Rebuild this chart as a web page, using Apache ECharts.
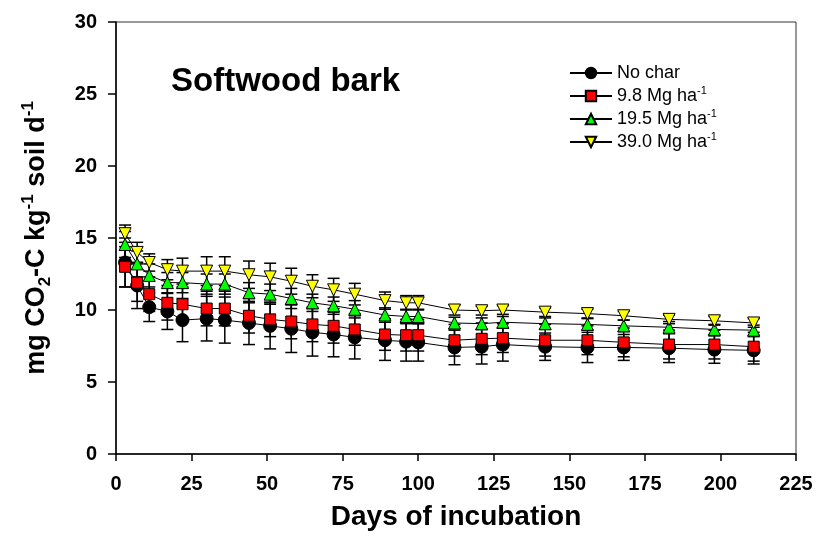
<!DOCTYPE html>
<html>
<head>
<meta charset="utf-8">
<script src="https://cdn.jsdelivr.net/npm/echarts@6/dist/echarts.min.js"></script>
<style>html,body{margin:0;padding:0;background:#fff}#c{width:818px;height:536px}</style>
</head>
<body>
<div id="c"></div>
<script>
var days = [3, 7, 11, 17, 22, 30, 36, 44, 51, 58, 65, 72, 79, 89, 96, 100, 112, 121, 128, 142, 156, 168, 183, 198, 211];
var noChar = [13.3, 11.7, 10.2, 9.9, 9.3, 9.4, 9.3, 9.1, 8.9, 8.7, 8.45, 8.3, 8.1, 7.9, 7.8, 7.75, 7.4, 7.45, 7.6, 7.45, 7.4, 7.4, 7.35, 7.25, 7.2];
var noCharErr = [1.7, 1.6, 1.0, 1.25, 1.5, 1.55, 1.6, 1.5, 1.6, 1.65, 1.65, 1.55, 1.5, 1.4, 1.35, 1.3, 1.2, 1.2, 1.15, 0.95, 1.05, 0.9, 1.0, 0.95, 0.95];
var char98 = [13.0, 11.9, 11.1, 10.5, 10.4, 10.1, 10.1, 9.6, 9.35, 9.2, 9.0, 8.9, 8.65, 8.3, 8.25, 8.25, 7.9, 8.0, 8.05, 7.9, 7.9, 7.75, 7.6, 7.6, 7.45];
var char98Err = [1.4, 1.3, 1.2, 1.2, 1.2, 1.2, 1.2, 1.2, 1.2, 1.2, 1.2, 1.2, 1.1, 1.1, 1.1, 1.1, 1.1, 1.1, 1.0, 1.1, 1.0, 1.0, 1.0, 1.0, 1.0];
var char195 = [14.55, 13.2, 12.4, 11.9, 11.9, 11.8, 11.8, 11.2, 11.1, 10.8, 10.5, 10.3, 10.05, 9.65, 9.55, 9.55, 9.1, 9.05, 9.15, 9.05, 9.0, 8.9, 8.8, 8.65, 8.6];
var char195Err = [0.9, 0.9, 0.8, 0.7, 0.7, 0.7, 0.7, 0.7, 0.7, 0.7, 0.6, 0.6, 0.6, 0.5, 0.5, 0.5, 0.4, 0.4, 0.4, 0.4, 0.4, 0.4, 0.4, 0.35, 0.35];
var char390 = [15.3, 14.0, 13.3, 12.8, 12.7, 12.7, 12.7, 12.45, 12.3, 12.0, 11.65, 11.4, 11.1, 10.65, 10.5, 10.5, 10.0, 9.95, 10.0, 9.85, 9.75, 9.6, 9.35, 9.25, 9.1];
var char390Err = [0.6, 0.7, 0.6, 0.7, 0.9, 1.0, 1.0, 0.95, 0.95, 0.9, 0.8, 0.8, 0.75, 0.6, 0.5, 0.5, 0.35, 0.3, 0.3, 0.3, 0.3, 0.3, 0.3, 0.3, 0.3];
var seriesNames = ['No char', '9.8 Mg ha-1', '19.5 Mg ha-1', '39.0 Mg ha-1'];
var xTicks = [0, 25, 50, 75, 100, 125, 150, 175, 200, 225];
var yTicks = [0, 5, 10, 15, 20, 25, 30];

var chart = echarts.init(document.getElementById('c'));
var FONT = 'Liberation Sans, Arial, sans-serif';

function pairs(vals) { return days.map(function (d, i) { return [d, vals[i]]; }); }
function errData(vals, errs) { return days.map(function (d, i) { return [d, vals[i] - errs[i], vals[i] + errs[i]]; }); }
function errSeries(name, vals, errs, z) {
  return {
    type: 'custom', name: name + ' err', z: z,
    data: errData(vals, errs),
    renderItem: function (params, api) {
      var lo = api.coord([api.value(0), api.value(1)]);
      var hi = api.coord([api.value(0), api.value(2)]);
      var w = 6;
      var st = { stroke: '#000', lineWidth: 1.5 };
      return {
        type: 'group', children: [
          { type: 'line', shape: { x1: lo[0], y1: lo[1], x2: hi[0], y2: hi[1] }, style: st },
          { type: 'line', shape: { x1: lo[0] - w, y1: lo[1], x2: lo[0] + w, y2: lo[1] }, style: st },
          { type: 'line', shape: { x1: hi[0] - w, y1: hi[1], x2: hi[0] + w, y2: hi[1] }, style: st }
        ]
      };
    }
  };
}
function lineSeries(name, vals, symbol, size, color, rot, z) {
  return {
    type: 'line', name: name, data: pairs(vals), z: z,
    symbol: symbol, symbolSize: size, symbolRotate: rot || 0,
    showAllSymbol: true,
    lineStyle: { color: '#000', width: 1 },
    itemStyle: { color: color, borderColor: '#000', borderWidth: 1, opacity: 1 },
    emphasis: { disabled: true },
    animation: false
  };
}

var supRich = {
  sup: { fontSize: 11, fontFamily: FONT, color: '#000', verticalAlign: 'top', lineHeight: 22 },
  n: { fontSize: 18, fontFamily: FONT, color: '#000', lineHeight: 22 }
};

var option = {
  animation: false,
  grid: { left: 116, right: 22, top: 22, bottom: 79, show: true, borderColor: '#333', borderWidth: 1, containLabel: false },
  title: {
    text: 'Softwood bark', left: 166, top: 60,
    textStyle: { fontFamily: FONT, fontSize: 33, fontWeight: 'bold', color: '#000' }
  },
  legend: {
    orient: 'vertical', left: 564, top: 57,
    itemWidth: 42, itemHeight: 13, itemGap: 1,
    data: seriesNames,
    formatter: function (n) {
      var m = n.match(/^(.*)-1$/);
      if (m) return '{n|' + m[1] + '}{sup|-1}';
      return '{n|' + n + '}';
    },
    textStyle: { fontFamily: FONT, fontSize: 18, color: '#000', rich: supRich, lineHeight: 22 }
  },
  xAxis: {
    type: 'value', min: 0, max: 225, interval: 25,
    name: 'Days of incubation', nameLocation: 'middle', nameGap: 49,
    nameTextStyle: { fontFamily: FONT, fontSize: 28, fontWeight: 'bold', color: '#000' },
    axisLine: { show: true, lineStyle: { color: '#000', width: 1.5 } },
    axisTick: { show: true, inside: false, length: 7, lineStyle: { color: '#000', width: 1.5 } },
    axisLabel: { fontFamily: FONT, fontSize: 20, fontWeight: 'bold', color: '#000', margin: 20,
      formatter: function (v) { return xTicks.indexOf(v) >= 0 ? String(v) : ''; } },
    splitLine: { show: false }
  },
  yAxis: {
    type: 'value', min: 0, max: 30, interval: 5,
    name: 'mg CO{sub|2}-C kg{sup|-1} soil d{sup|-1}', nameLocation: 'middle', nameGap: 62, nameRotate: 90,
    nameTextStyle: { fontFamily: FONT, fontSize: 27, fontWeight: 'bold', color: '#000', lineHeight: 34,
      rich: {
        sub: { fontFamily: FONT, fontSize: 17, fontWeight: 'bold', color: '#000', verticalAlign: 'bottom', lineHeight: 34 },
        sup: { fontFamily: FONT, fontSize: 17, fontWeight: 'bold', color: '#000', verticalAlign: 'top', lineHeight: 34 }
      } },
    axisLine: { show: true, lineStyle: { color: '#000', width: 1.5 } },
    axisTick: { show: true, inside: false, length: 8, lineStyle: { color: '#000', width: 1.5 } },
    axisLabel: { fontFamily: FONT, fontSize: 20, fontWeight: 'bold', color: '#000', margin: 19,
      formatter: function (v) { return yTicks.indexOf(v) >= 0 ? String(v) : ''; } },
    splitLine: { show: false }
  },
  series: [
    errSeries(seriesNames[0], noChar, noCharErr, 1),
    errSeries(seriesNames[1], char98, char98Err, 1),
    errSeries(seriesNames[2], char195, char195Err, 1),
    errSeries(seriesNames[3], char390, char390Err, 1),
    lineSeries(seriesNames[0], noChar, 'circle', 13, '#000000', 0, 3),
    lineSeries(seriesNames[1], char98, 'rect', 11, '#ff0000', 0, 4),
    lineSeries(seriesNames[2], char195, 'triangle', 12, '#00ff00', 0, 5),
    lineSeries(seriesNames[3], char390, 'triangle', 12, '#ffff00', 180, 6)
  ]
};
chart.setOption(option);
</script>
</body>
</html>
